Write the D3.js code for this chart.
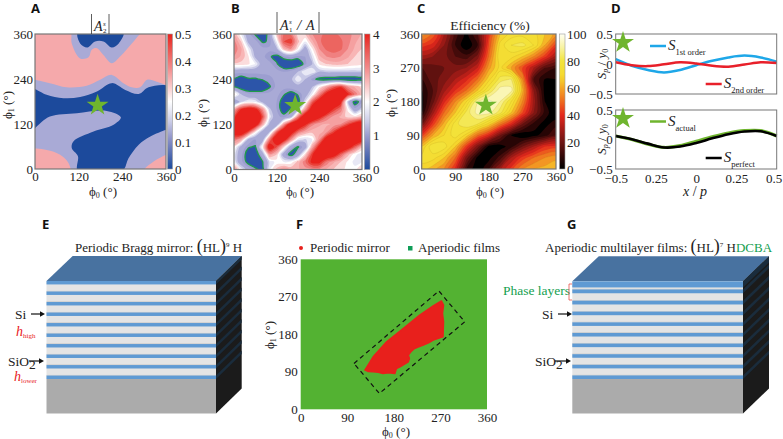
<!DOCTYPE html>
<html><head><meta charset="utf-8">
<script src="https://cdn.jsdelivr.net/npm/d3@7"></script>
<style>html,body{margin:0;padding:0;background:#fff}svg{display:block}text{font-family:"Liberation Serif",serif;fill:#222}.pl{font-family:"Open Sans",sans-serif;font-weight:700;font-size:13px;fill:#111}</style>
</head><body>
<svg id="c" width="783" height="439"></svg>
<script>
// ---------- data ----------
const starPoint = [172, 170];
const ticks120 = [0,120,240,360], ticks90 = [0,90,180,270,360];
const cbarA = [0,0.1,0.2,0.3,0.4,0.5], cbarB = [0,1,2,3,4], cbarC = [0,20,40,60,80,100];

// Panel A regions, [phi0, phi1]
const aBlueMid = [[-9,213],[0,213],[32,198],[78,189],[124,192],[170,207],[211,229],[248,211],[285,200],[312,218],[372,218],[372,109],[360,105],[317,87],[285,65],[257,29],[239,-6],[118,-6],[118,34],[101,56],[106,74],[161,100],[216,118],[236,138],[197,155],[115,149],[41,140],[0,109],[-9,100]];
const aBlueTop = [[118,366],[124,335],[144,324],[165,340],[188,340],[211,324],[230,335],[243,366]];
const aPinkTop = [[96,366],[101,335],[124,295],[147,298],[156,318],[170,322],[188,304],[211,282],[234,300],[271,340],[298,366],[372,366],[372,225],[335,233],[308,238],[289,218],[266,218],[243,229],[211,251],[179,238],[142,222],[87,218],[41,229],[0,238],[-9,240],[-9,366]];
const aPinkBL = [[-9,51],[32,51],[69,38],[92,16],[96,-6],[-9,-6]];
const aPinkBR = [[298,-6],[326,20],[360,38],[372,43],[372,-6]];

// Panel B field: rows phi1 = 360..0 (step 20), columns phi0 = 0..360 (step 20)
const gridB = [
[2.7,2.0,1.1,0.7,0.3,1.0,2.5,3.3,3.2,2.3,2.5,3.0,3.2,3.3,3.3,3.2,3.1,2.9,2.7],
[3.1,2.5,1.4,1.1,0.7,0.8,2.0,3.5,3.7,2.6,2.0,2.7,3.2,3.4,3.4,3.3,3.1,2.8,2.6],
[3.2,2.8,2.0,1.2,1.1,1.1,1.4,2.6,3.0,2.2,1.2,2.2,3.0,3.3,3.4,3.3,3.0,2.7,2.5],
[3.0,2.7,2.3,1.4,1.1,0.8,0.6,0.9,1.1,0.9,1.0,1.8,2.7,3.0,3.1,3.0,2.8,2.5,2.4],
[2.4,2.4,2.3,2.0,1.2,1.1,0.8,0.4,0.3,0.4,0.9,1.5,2.3,2.5,2.6,2.6,2.5,2.4,2.3],
[1.1,1.1,1.1,1.1,1.1,1.1,1.1,1.0,1.1,1.5,2.0,2.0,1.5,1.6,1.6,1.6,1.6,1.6,1.6],
[0.7,0.5,0.7,0.7,0.8,0.9,1.1,1.1,1.4,2.0,1.5,0.9,0.6,0.5,0.5,0.4,0.4,0.4,0.4],
[0.7,0.4,0.25,0.2,0.25,0.7,1.1,1.1,1.2,1.3,1.3,1.5,2.2,2.8,3.4,3.7,3.0,2.7,2.4],
[2.4,1.5,1.1,1.1,1.1,1.1,1.1,0.8,0.5,0.8,1.2,2.0,3.1,4.0,4.4,4.4,3.9,3.2,2.6],
[0.8,1.7,2.0,1.9,1.4,1.1,1.0,0.5,0.3,0.5,1.8,3.4,4.2,4.6,4.6,4.0,1.6,0.5,1.0],
[2.8,3.8,4.2,4.0,3.0,1.6,1.0,0.5,0.8,1.4,2.9,4.2,4.7,4.6,3.7,3.2,2.2,1.1,1.7],
[3.6,4.5,4.8,4.6,3.6,1.9,1.1,0.9,1.3,3.2,4.4,4.7,4.0,3.3,2.9,2.7,2.4,2.4,2.6],
[4.0,4.7,4.8,4.3,2.8,1.4,1.1,2.9,4.3,4.6,3.9,3.1,2.8,2.7,2.8,3.0,3.6,4.2,4.4],
[4.2,4.4,3.6,2.3,1.3,1.5,3.4,4.5,4.2,3.3,2.8,2.6,2.6,2.9,3.6,4.4,4.8,4.8,4.8],
[3.2,2.8,1.4,1.0,1.2,3.2,4.5,4.1,3.0,1.9,1.7,2.0,3.0,4.2,4.7,4.8,4.8,4.6,4.2],
[2.3,1.3,0.8,0.7,2.2,4.2,3.5,2.4,1.2,0.7,1.2,2.8,4.0,4.6,4.7,4.6,4.2,3.4,2.6],
[1.9,1.1,0.5,0.4,1.2,2.9,2.5,1.2,0.5,1.2,2.4,3.7,4.4,4.5,4.2,3.4,2.6,2.1,1.8],
[2.0,1.1,0.6,0.2,0.7,1.8,2.1,2.0,2.1,2.6,3.2,3.9,3.9,3.2,2.8,2.5,2.2,1.9,2.0],
[3.0,2.0,1.2,0.9,0.5,2.0,2.6,3.0,2.7,2.7,2.9,3.0,3.0,2.7,2.5,2.3,2.2,2.1,2.6]];

// Panel C field: rows phi1 = 360..0 (step 30), columns phi0 = 0..360 (step 30)
const gridC = [
[58,48,30,12,3,15,40,65,72,73,72,65,58],
[42,38,25,10,0,10,45,72,80,82,75,60,42],
[28,25,22,15,12,22,50,75,72,65,55,42,28],
[15,18,20,22,25,35,58,72,60,45,30,15,10],
[10,18,22,30,38,50,68,82,85,55,15,5,5],
[5,15,28,40,50,65,80,93,92,62,25,3,0],
[3,18,38,55,70,90,97,90,75,55,28,5,0],
[5,28,50,65,82,92,92,82,65,45,25,8,0],
[20,42,62,78,85,80,68,52,38,20,8,3,8],
[42,60,70,78,68,50,38,20,5,0,3,8,15],
[65,80,78,65,42,22,3,2,8,20,30,40,42],
[72,72,65,50,22,3,3,12,30,42,50,55,58],
[68,62,55,38,10,0,10,28,42,55,60,62,65]];

// Panel D curves
const xD = [-0.5,-0.4,-0.3,-0.2,-0.1,0,0.1,0.2,0.3,0.4,0.5];
const s1st = [0.08,-0.03,-0.1,-0.14,-0.1,-0.02,0.055,0.11,0.14,0.11,0.04];
const s2nd = [0.03,-0.02,-0.035,-0.005,0.03,0.01,-0.03,-0.045,-0.01,0.03,0.015];
const sActual = [0.06,0,-0.08,-0.135,-0.105,-0.03,0.045,0.11,0.15,0.15,0.06];
const sPerfect = [0.06,0.005,-0.07,-0.135,-0.12,-0.06,0.02,0.09,0.135,0.14,0.06];
const dTickVals = [-0.5,-0.25,0,0.25,0.5], dTickLabels = ["\u22120.5","0.25","0","0.25","0.5"];

// Panel F regions
const fMirror = [[124,94],[140,126],[166,162],[198,194],[230,226],[256,248],[272,260],[276,250],[274,230],[276,210],[275,174],[256,166],[248,160],[237,154],[228,150],[220,146],[213,138],[208,130],[210,122],[208,114],[200,108],[192,102],[185,98],[182,86],[170,88],[159,86],[150,89],[140,90],[130,91]];
const fBox = [[103,110],[267,284],[317,210],[152,38]];

// Panels E, G layer thicknesses, top to bottom: [material, thickness]
const layersE = ["H","L","H","L","H","L","H","L","H","L","H","L","H","L","H","L","H","L","H"];
const thickE = [3.4,7,3.4,7,3.4,7,3.4,7,3.4,7,3.4,7,3.4,7,3.4,7,3.4,7,3.4];
const layersG = ["H","L","H","L","H","L","H","L","H","L","H","L","H","L","H","L","H","L","H"];
const thickG = [6,2,3.7,7.3,3.7,7,3.5,7,3.5,6.9,3.5,6.9,3.5,6.9,3.5,6.9,3.5,6.9,3.5];

// ---------- drawing ----------
const svg = d3.select("#c"), defs = svg.append("defs");
const FS = 13, frameCol = "#777";
const mapDiv = d3.scaleLinear().domain([0,0.9,1.4,2,2.5,3,3.5,4]).range(["#1c4a9c","#8e92c8","#c9cbe6","#ffffff","#f9c3c3","#f28a8a","#ec5a55","#e8211c"]);
const bandB = d3.scaleThreshold().domain([0.75,1,1.5,1.75,2,2.25,2.5,2.75,3,3.25,3.5,3.75]).range(["#2c55a9","#9c9ed0","#a9aad6","#c8c9e6","#e8e8f5","#ffffff","#fbdcdc","#f8b5b5","#f5a0a0","#f08080","#ec6560","#e94038","#e8211c"]);
const mapHot = d3.scaleLinear().domain([0,8,20,30,40,50,60,68,80,90,100]).range(["#000","#2a0505","#6e1412","#a81c17","#e5281c","#ee6a1e","#f5a524","#f5d82e","#f2e43c","#f8f3a0","#fffff2"]);
let uid = 0;

function rich(parent, x, y, parts, opt={}){
  const t = parent.append("text").attr("x",x).attr("y",y).attr("font-size",opt.size||FS);
  if(opt.rotate!==undefined) t.attr("transform",`rotate(${opt.rotate} ${x} ${y})`);
  if(opt.anchor) t.attr("text-anchor",opt.anchor);
  let off = 0;
  parts.forEach(p=>{
    const want = p.dy||0;
    const ts = t.append("tspan").text(p.t).attr("dy",want-off);
    off = want;
    if(p.i) ts.attr("font-style","italic");
    if(p.fs) ts.attr("font-size",p.fs);
    if(p.fill) ts.style("fill",p.fill);
  });
  return t;
}
const phiLabel = n => [{t:"\u03d5"},{t:n,dy:2,fs:8},{t:" (\u00b0)"}];

function heatPanel(box, tickVals){
  const g = svg.append("g"), id = "clip"+(uid++);
  defs.append("clipPath").attr("id",id).append("rect").attr("x",box.x0).attr("y",box.y0).attr("width",box.x1-box.x0).attr("height",box.y1-box.y0);
  const x = d3.scaleLinear([0,360],[box.x0,box.x1]), y = d3.scaleLinear([0,360],[box.y1,box.y0]);
  const body = g.append("g").attr("clip-path",`url(#${id})`);
  return {g,body,x,y,box,tickVals};
}
function finishPanel(p, labelX, labelY, ylX, ylY){
  const {g,x,y,box,tickVals} = p;
  g.append("rect").attr("x",box.x0).attr("y",box.y0).attr("width",box.x1-box.x0).attr("height",box.y1-box.y0).attr("fill","none").attr("stroke",frameCol).attr("stroke-width",1.2);
  const ax = d3.axisBottom(x).tickValues(tickVals).tickSize(0).tickPadding(3).tickFormat(d3.format("d"));
  const ay = d3.axisLeft(y).tickValues(tickVals).tickSize(0).tickPadding(2).tickFormat(d3.format("d"));
  const gx = g.append("g").attr("transform",`translate(0,${box.y1})`).call(ax);
  const gy = g.append("g").attr("transform",`translate(${box.x0},0)`).call(ay);
  [gx,gy].forEach(s=>{s.select(".domain").remove();s.selectAll("text").attr("font-size",FS).attr("font-family","Liberation Serif").style("fill","#222");});
  rich(g,labelX,labelY,phiLabel("0"),{anchor:"middle"});
  rich(g,ylX,ylY,phiLabel("1"),{anchor:"middle",rotate:-90});
}
function star(g,x,y){
  g.append("path").attr("d",d3.symbol(d3.symbolStar,150)()).attr("transform",`translate(${x},${y})`).attr("fill","#6fb52e");
}
function colorbar(x0,x1,y0,y1,map,dom,vals,fmt,lx){
  const id = "grad"+(uid++), grad = defs.append("linearGradient").attr("id",id).attr("x1",0).attr("x2",0).attr("y1",1).attr("y2",0);
  d3.range(0,1.001,0.05).forEach(f=>grad.append("stop").attr("offset",f).attr("stop-color",map(dom*f)));
  svg.append("rect").attr("x",x0).attr("y",y0).attr("width",x1-x0).attr("height",y1-y0).attr("fill",`url(#${id})`).attr("stroke","#999").attr("stroke-width",.6);
  const s = d3.scaleLinear([0,dom],[y1,y0]);
  const a = svg.append("g").attr("transform",`translate(${x0},0)`).call(d3.axisRight(s).tickValues(vals).tickSize(0).tickPadding(lx-x0).tickFormat(fmt));
  a.select(".domain").remove();
  a.selectAll("text").attr("font-size",FS).attr("font-family","Liberation Serif").style("fill","#222");
}
function contourBands(p, grid, thresholds, colorOf, strokeFn){
  const m = grid.length, n = grid[0].length, flat = grid.flat();
  const cs = d3.contours().size([n,m]).smooth(true).thresholds(thresholds)(flat);
  const sx = d3.scaleLinear([0.5,n-0.5],[p.box.x0,p.box.x1]), sy = d3.scaleLinear([0.5,m-0.5],[p.box.y0,p.box.y1]);
  const line = d3.line().x(d=>sx(d[0])).y(d=>sy(d[1])).curve(d3.curveCatmullRomClosed.alpha(0.5));
  cs.forEach(c=>{
    const d = c.coordinates.map(poly=>poly.map(r=>line(r.slice(0,-1))).join("")).join("");
    const el = p.body.append("path").attr("d",d).attr("fill",colorOf(c.value)).attr("fill-rule","evenodd");
    strokeFn(el,c.value);
  });
}
function frameBg(p,c){p.body.append("rect").attr("x",p.box.x0).attr("y",p.box.y0).attr("width",p.box.x1-p.box.x0).attr("height",p.box.y1-p.box.y0).attr("fill",c);}

// Panel letters
[["A",31,13],["B",231,13],["C",417,13],["D",611,13],["E",42,229],["F",296,229],["G",567,229]].forEach(d=>svg.append("text").attr("class","pl").attr("x",d[1]).attr("y",d[2]).text(d[0]));

// --- Panel A
const pA = heatPanel({x0:35,x1:166,y0:34,y1:169},ticks120);
frameBg(pA,"#a9aad6");
const lineA = d3.line().x(d=>pA.x(d[0])).y(d=>pA.y(d[1])).curve(d3.curveCatmullRomClosed.alpha(0.5));
[[aPinkTop,"#f5a9ab"],[aPinkBL,"#f5a9ab"],[aPinkBR,"#f5a9ab"],[aBlueMid,"#1c4a9c"],[aBlueTop,"#1c4a9c"]].forEach(d=>pA.body.append("path").attr("d",lineA(d[0])).attr("fill",d[1]));
finishPanel(pA,103,195.5,12,105);
star(svg,pA.x(starPoint[0]),pA.y(starPoint[1]));
colorbar(167.5,172.5,34,169,v=>mapDiv(v*8),0.5,cbarA,d=>d===0?"0":d3.format(".1f")(d),175);
[91.5,109].forEach(x=>svg.append("line").attr("x1",x).attr("x2",x).attr("y1",14).attr("y2",34).attr("stroke","#333").attr("stroke-width",.8));
rich(svg,94,31,[{t:"A",i:1}],{size:14});
rich(svg,103,26,[{t:"s",i:1}],{size:7});
rich(svg,103,33,[{t:"2"}],{size:7});

// --- Panel B
const pB = heatPanel({x0:234,x1:362,y0:34,y1:169.5},ticks120);
frameBg(pB,"#2c55a9");
contourBands(pB,gridB,d3.range(0.75,3.76,0.25),v=>bandB(v),(el,v)=>{ if(v===0.75) el.attr("stroke","#1f9a4a").attr("stroke-width",1.3); });
finishPanel(pB,300,195.5,207,113);
star(svg,pB.x(starPoint[0]),pB.y(starPoint[1]));
colorbar(364.5,370,34,169.5,mapDiv,4,cbarB,d3.format("d"),373);
[277,319].forEach(x=>svg.append("line").attr("x1",x).attr("x2",x).attr("y1",12).attr("y2",33).attr("stroke","#333").attr("stroke-width",.8));
rich(svg,280,30,[{t:"A",i:1}],{size:14});
rich(svg,289,24,[{t:"s",i:1}],{size:7});
rich(svg,289,32,[{t:"1"}],{size:7});
rich(svg,297,30,[{t:"/",i:1}],{size:15});
rich(svg,306,30,[{t:"A",i:1}],{size:14});

// --- Panel C
const pC = heatPanel({x0:421.7,x1:556,y0:34,y1:169},ticks90);
frameBg(pC,"#000");
contourBands(pC,gridC,d3.range(5,100,5),v=>mapHot(v+2.5),(el,v)=>{ if(v>=50) el.attr("stroke","#a8881e").attr("stroke-width",.25).attr("stroke-opacity",.6); });
finishPanel(pC,490,195.5,395,103);
star(svg,pC.x(starPoint[0]),pC.y(starPoint[1]));
colorbar(559.5,565,34,169,mapHot,100,cbarC,d3.format("d"),567);
rich(svg,490,30,[{t:"Efficiency (%)"}],{anchor:"middle",size:13.5});

// --- Panel D
function curvePanel(y0,y1,series,showX){
  const g = svg.append("g");
  const x = d3.scaleLinear([-0.5,0.5],[615.7,776.7]), y = d3.scaleLinear([-0.5,0.5],[y1,y0]);
  const line = d3.line().x((d,i)=>x(xD[i])).y(d=>y(d)).curve(d3.curveCatmullRom.alpha(0.5));
  series.forEach(s=>g.append("path").attr("d",line(s.v)).attr("fill","none").attr("stroke",s.c).attr("stroke-width",s.w));
  g.append("rect").attr("x",615.7).attr("y",y0).attr("width",161).attr("height",y1-y0).attr("fill","none").attr("stroke",frameCol).attr("stroke-width",1);
  const ay = g.append("g").attr("transform","translate(615.7,0)").call(d3.axisLeft(y).tickValues([-0.5,0,0.5]).tickSize(0).tickPadding(3).tickFormat(d=>d===0?"0":d<0?"\u22120.5":"0.5"));
  ay.select(".domain").remove();
  ay.selectAll("text").attr("font-size",FS).attr("font-family","Liberation Serif").style("fill","#222");
  if(showX){
    const ax = g.append("g").attr("transform",`translate(0,${y1})`).call(d3.axisBottom(x).tickValues(dTickVals).tickSize(0).tickPadding(5).tickFormat((d,i)=>dTickLabels[i]));
    ax.select(".domain").remove();
    ax.selectAll("text").attr("font-size",FS).attr("font-family","Liberation Serif").style("fill","#222");
    ax.selectAll(".tick:last-of-type text").attr("text-anchor","end").attr("x",5);
  }
  rich(g,606,(y0+y1)/2,[{t:"S",i:1},{t:"p",i:1,dy:2,fs:8},{t:" / "},{t:"y",i:1},{t:"0",dy:2,fs:8}],{anchor:"middle",rotate:-90,size:13});
  star(g,623,y0+8.5);
}
curvePanel(34,94,[{v:s1st,c:"#1ea7e8",w:2.5},{v:s2nd,c:"#e8202a",w:2.5}],false);
curvePanel(110,169,[{v:sActual,c:"#6fb52e",w:3.2},{v:sPerfect,c:"#000",w:2.6}],true);
function legD(x,y,c,sub){
  svg.append("line").attr("x1",x).attr("x2",x+16).attr("y1",y).attr("y2",y).attr("stroke",c).attr("stroke-width",2.5);
  rich(svg,x+18,y+4,[{t:"S",i:1,fs:15},{t:sub,dy:5,fs:8.5}]);
}
legD(650,46,"#1ea7e8","1st order");
legD(705.7,84,"#e8202a","2nd order");
legD(650,121.5,"#6fb52e","actual");
legD(705.7,158,"#000","perfect");
rich(svg,695,196,[{t:"x",i:1},{t:" / "},{t:"p",i:1}],{anchor:"middle",size:14});

// --- Panel F
const fx = d3.scaleLinear([0,360],[300.7,487]), fy = d3.scaleLinear([0,360],[409.3,259.3]);
const gF = svg.append("g");
gF.append("rect").attr("x",fx(0)).attr("y",fy(360)).attr("width",fx(360)-fx(0)).attr("height",fy(0)-fy(360)).attr("fill","#53b232");
const pairF = d3.line().x(d=>fx(d[0])).y(d=>fy(d[1])).curve(d3.curveLinearClosed);
gF.append("path").attr("d",pairF(fMirror)).attr("fill","#e8201c").attr("stroke","#e8201c").attr("stroke-width",1.5).attr("stroke-linejoin","round");
gF.append("path").attr("d",pairF(fBox)).attr("fill","none").attr("stroke","#111").attr("stroke-width",1.2).attr("stroke-dasharray","4.5 3.5");
const fax = gF.append("g").attr("transform",`translate(0,${fy(0)})`).call(d3.axisBottom(fx).tickValues(ticks90).tickSize(0).tickPadding(3).tickFormat(d3.format("d")));
const fay = gF.append("g").attr("transform",`translate(${fx(0)},0)`).call(d3.axisLeft(fy).tickValues(ticks90).tickSize(0).tickPadding(3).tickFormat(d3.format("d")));
[fax,fay].forEach(s=>{s.select(".domain").remove();s.selectAll("text").attr("font-size",FS).attr("font-family","Liberation Serif").style("fill","#222");});
rich(gF,396,436,phiLabel("0"),{anchor:"middle"});
rich(gF,274,335,phiLabel("1"),{anchor:"middle",rotate:-90});
gF.append("circle").attr("cx",301).attr("cy",248).attr("r",2).attr("fill","#e8201c");
rich(gF,310,252,[{t:"Periodic mirror"}],{size:13});
gF.append("rect").attr("x",408).attr("y",246).attr("width",4.5).attr("height",4.5).attr("fill","#0f9d58");
rich(gF,418,252,[{t:"Aperiodic films"}],{size:13});

// --- Panels E, G : layer stacks
function stack(x0,x1,dx,top,sub,bot,kinds,thick){
  const g = svg.append("g"), dy = 25;
  const total = d3.sum(thick), depth = d3.scaleLinear([0,total],[top,sub]);
  g.append("path").attr("d",d3.line()([[x0,top],[x1,top],[x1+dx,top-dy],[x0+dx+.5,top-dy]])+"Z").attr("fill","#4872a0");
  g.append("rect").attr("x",x0).attr("y",top).attr("width",x1-x0).attr("height",sub-top).attr("fill","#e4e4e4");
  g.append("rect").attr("x",x0).attr("y",sub).attr("width",x1-x0).attr("height",bot-sub).attr("fill","#ababab");
  g.append("path").attr("d",d3.line()([[x1,top],[x1+dx,top-dy],[x1+dx,bot-dy],[x1,bot]])+"Z").attr("fill","#1b1b1b");
  let c = 0;
  kinds.forEach((k,i)=>{
    const a = depth(c), b = depth(c+thick[i]); c += thick[i];
    if(k==="H"){
      g.append("rect").attr("x",x0).attr("y",a).attr("width",x1-x0).attr("height",b-a).attr("fill","#5f9ad3");
      g.append("path").attr("d",d3.line()([[x1,a],[x1+dx,a-dy],[x1+dx,b-dy],[x1,b]])+"Z").attr("fill","#1a2c3c");
    } else {
      g.append("rect").attr("x",x0).attr("y",b-.6).attr("width",x1-x0).attr("height",.6).attr("fill","#c8c8c8");
    }
  });
}
stack(46.5,216,25.7,281,379,413.5,layersE,thickE);
stack(572.3,743,26,281.3,379,413.5,layersG,thickG);
function arrow(x1,x2,y){
  svg.append("line").attr("x1",x1).attr("x2",x2-3).attr("y1",y).attr("y2",y).attr("stroke","#111").attr("stroke-width",1.2);
  svg.append("path").attr("d",d3.line()([[x2,y],[x2-5,y-2.8],[x2-5,y+2.8]])+"Z").attr("fill","#111");
}
function formula(x,y,pre,exp,post,postCol){
  return rich(svg,x,y,[{t:pre},{t:"(",fs:18},{t:"HL"},{t:")",fs:18},{t:exp,dy:-5,fs:7},{t:" H",dy:0}].concat(post?[{t:post,fill:postCol}]:[]),{size:13});
}
formula(75,251.5,"Periodic Bragg mirror: ","9","");
formula(545,252,"Aperiodic multilayer films: ","7","DCBA","#14a050");
rich(svg,15,319,[{t:"Si"}],{size:13.5}); arrow(31,45,314);
rich(svg,16,336,[{t:"h",i:1,fill:"#e8201c",fs:14},{t:"high",dy:2,fs:7,fill:"#e8201c"}]);
rich(svg,8,366,[{t:"SiO"},{t:"2",dy:3}],{size:13.5}); arrow(29,44,361);
rich(svg,14,381,[{t:"h",i:1,fill:"#e8201c",fs:14},{t:"lower",dy:2,fs:7,fill:"#e8201c"}]);
rich(svg,503,295,[{t:"Phase layers",fill:"#14a050"}],{size:13.5});
svg.append("path").attr("d","M572,284H569V300H572").attr("fill","none").attr("stroke","#e8504a").attr("stroke-width",.8);
rich(svg,542,319,[{t:"Si"}],{size:13.5}); arrow(558,572,314);
rich(svg,535,366,[{t:"SiO"},{t:"2",dy:3}],{size:13.5}); arrow(555,571,361);
</script>
</body></html>
